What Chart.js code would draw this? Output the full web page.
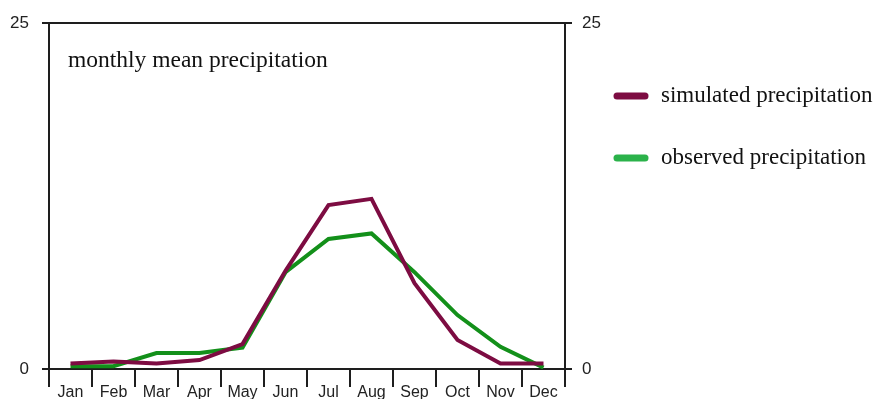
<!DOCTYPE html>
<html>
<head>
<meta charset="utf-8">
<script src="https://cdn.jsdelivr.net/npm/chart.js@4.4.1/dist/chart.umd.min.js"></script>
<style>
  html, body { margin: 0; padding: 0; background: #fff; }
  #wrap { width: 880px; height: 400px; }
</style>
</head>
<body>
<div id="wrap"><canvas id="myChart" width="880" height="400"></canvas></div>
<script>
// monthly values (same units as the 0..25 axis)
const months = ['Jan', 'Feb', 'Mar', 'Apr', 'May', 'Jun', 'Jul', 'Aug', 'Sep', 'Oct', 'Nov', 'Dec'];
const simulated = [0.4, 0.55, 0.4, 0.65, 1.8, 7.1, 11.85, 12.3, 6.2, 2.1, 0.4, 0.4];
const observed = [0.2, 0.2, 1.15, 1.15, 1.55, 7.0, 9.4, 9.8, 7.0, 3.9, 1.6, 0.1];
const yTicks = [0, 25];
const chartTitle = 'monthly mean precipitation';
const seriesNames = ['simulated precipitation', 'observed precipitation'];

const simColor = '#7d0c42';
const obsLineColor = '#13901a';
const obsLegendColor = '#2bb24a';
const axisColor = '#1e1e1e';

// title inside the plot + legend on the right, drawn by hand
const annotations = {
    id: 'annotations',
    afterDraw(chart) {
        const ctx = chart.ctx;
        const area = chart.chartArea;
        ctx.save();
        ctx.fillStyle = '#111';
        ctx.font = '23.5px "Liberation Serif", "Times New Roman", serif';
        ctx.textBaseline = 'alphabetic';
        ctx.fillText(chartTitle, area.left + 19, 67);

        ctx.font = '23px "Liberation Serif", "Times New Roman", serif';
        const items = [
            { text: seriesNames[0], color: simColor, y: 96 },
            { text: seriesNames[1], color: obsLegendColor, y: 158 }
        ];
        items.forEach(function (it) {
            ctx.strokeStyle = it.color;
            ctx.lineWidth = 7;
            ctx.lineCap = 'round';
            ctx.beginPath();
            ctx.moveTo(617, it.y);
            ctx.lineTo(645, it.y);
            ctx.stroke();
            ctx.fillStyle = '#111';
            ctx.fillText(it.text, 661, it.y + 6);
        });
        ctx.restore();
    }
};

const ctx = document.getElementById('myChart').getContext('2d');
new Chart(ctx, {
    type: 'line',
    data: {
        labels: months,
        datasets: [
            {
                label: seriesNames[0],
                data: simulated,
                borderColor: simColor,
                backgroundColor: simColor,
                borderWidth: 4,
                pointRadius: 0,
                tension: 0,
                yAxisID: 'y'
            },
            {
                label: seriesNames[1],
                data: observed,
                borderColor: obsLineColor,
                backgroundColor: obsLineColor,
                borderWidth: 4,
                pointRadius: 0,
                tension: 0,
                yAxisID: 'y'
            }
        ]
    },
    options: {
        responsive: false,
        animation: false,
        layout: { padding: { left: 10, right: 276, top: 13, bottom: 1 } },
        plugins: {
            legend: { display: false },
            tooltip: { enabled: false }
        },
        scales: {
            x: {
                type: 'category',
                offset: true,
                grid: { offset: true, drawOnChartArea: false, tickLength: 18, color: axisColor, lineWidth: 2 },
                border: { display: true, color: axisColor, width: 2 },
                ticks: {
                    autoSkip: false,
                    maxRotation: 0,
                    padding: -2,
                    color: '#222',
                    font: { family: 'Arial, "Liberation Sans", sans-serif', size: 16, lineHeight: 1.0 }
                }
            },
            y: {
                position: 'left',
                min: 0,
                max: 25,
                afterBuildTicks: function (axis) { axis.ticks = yTicks.map(v => ({ value: v })); },
                afterFit: function (axis) { axis.width = 39; },
                grid: { color: axisColor, lineWidth: 2, tickLength: 7 },
                border: { display: true, color: axisColor, width: 2 },
                ticks: {
                    padding: 13,
                    color: '#222',
                    font: { family: 'Arial, "Liberation Sans", sans-serif', size: 17 }
                }
            },
            y2: {
                position: 'right',
                min: 0,
                max: 25,
                afterBuildTicks: function (axis) { axis.ticks = yTicks.map(v => ({ value: v })); },
                afterFit: function (axis) { axis.width = 39; },
                grid: { drawOnChartArea: false, color: axisColor, lineWidth: 2, tickLength: 7 },
                border: { display: true, color: axisColor, width: 2 },
                ticks: {
                    padding: 10,
                    color: '#222',
                    font: { family: 'Arial, "Liberation Sans", sans-serif', size: 17 }
                }
            }
        }
    },
    plugins: [annotations]
});
</script>
</body>
</html>
